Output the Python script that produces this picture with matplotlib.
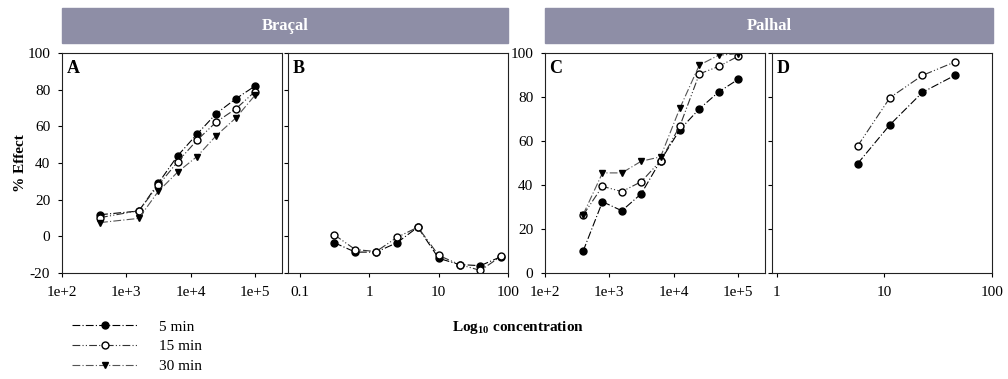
import matplotlib
matplotlib.use("Agg")
import matplotlib.pyplot as plt
from matplotlib.patches import Rectangle
from matplotlib.ticker import FixedLocator, FixedFormatter, NullLocator

plt.rcParams['font.family'] = ['Liberation Serif', 'DejaVu Serif']
plt.rcParams['axes.unicode_minus'] = False
plt.rcParams['mathtext.fontset'] = 'custom'
plt.rcParams['mathtext.rm'] = 'Liberation Serif:bold'
plt.rcParams['mathtext.it'] = 'Liberation Serif:bold'
plt.rcParams['mathtext.bf'] = 'Liberation Serif:bold'

# data
series_labels = ["5 min", "15 min", "30 min"]

x_A = [390.625, 1562.5, 3125, 6250, 12500, 25000, 50000, 100000]
A_5 = [11.8, 13.8, 28.9, 43.9, 55.7, 67, 75, 82]
A_15 = [10.2, 14, 27.8, 40.6, 52.4, 62.4, 69.5, 79]
A_30 = [7.5, 9.8, 24.5, 35, 43.5, 55, 64.5, 77]

x_B = [0.3125, 0.625, 1.25, 2.5, 5, 10, 20, 40, 80]
B_5 = [-3.5, -8.6, -8.6, -3.5, 5, -12, -15.4, -16, -11]
B_15 = [0.8, -7.2, -8.3, -0.6, 5, -10.4, -15.4, -18.6, -10.8]

x_C = [390.625, 781.25, 1562.5, 3125, 6250, 12500, 25000, 50000, 100000]
C_5 = [9.9, 32.4, 28.3, 36, 51.1, 65.2, 74.6, 82.3, 88]
C_15 = [26.3, 39.4, 37, 41.5, 51, 66.9, 90.5, 93.9, 98.5]
C_30 = [26.5, 45.5, 45.5, 50.8, 52.8, 75, 94.5, 99, 99.7]

x_D = [5.625, 11.25, 22.5, 45]
D_5 = [49.7, 67.4, 82.1, 89.8]
D_15 = [57.7, 79.7, 89.8, 95.9]

big_ticks = [1e2, 1e3, 1e4, 1e5]
big_labels = ["1e+2", "1e+3", "1e+4", "1e+5"]

styles = {
    "5 min": dict(color='black', ls=(0, (7, 2, 1, 2)), marker='o', mfc='black', mec='black'),
    "15 min": dict(color='#333333', ls=(0, (7, 2, 1, 2, 1, 2)), marker='o', mfc='white', mec='black'),
    "30 min": dict(color='#555555', ls=(0, (7, 2, 1, 2)), marker='v', mfc='black', mec='black'),
}

W, H = 1008, 379
fig = plt.figure(figsize=(W / 100, H / 100), dpi=100)


def make_ax(x0, x1, y0=53, y1=273):
    return fig.add_axes([x0 / W, 1 - y1 / H, (x1 - x0) / W, (y1 - y0) / H])


axA = make_ax(62, 282)
axB = make_ax(288, 508)
axC = make_ax(545, 765)
axD = make_ax(772, 992)


def draw(ax, x, y, label):
    ax.plot(x, y, lw=0.8, ms=5, label=label, **styles[label])


draw(axA, x_A, A_5, "5 min")
draw(axA, x_A, A_15, "15 min")
draw(axA, x_A, A_30, "30 min")

draw(axB, x_B, B_5, "5 min")
draw(axB, x_B, B_15, "15 min")

draw(axC, x_C, C_5, "5 min")
draw(axC, x_C, C_15, "15 min")
draw(axC, x_C, C_30, "30 min")

draw(axD, x_D, D_5, "5 min")
draw(axD, x_D, D_15, "15 min")

for ax in [axA, axB, axC, axD]:
    ax.set_xscale('log')
    ax.xaxis.set_minor_locator(NullLocator())
    ax.tick_params(direction='out', length=3, width=0.8, labelsize=11)
    ax.tick_params(axis='x', pad=6)
    ax.tick_params(axis='y', pad=5.5)
    for s in ax.spines.values():
        s.set_linewidth(0.8)
        s.set_color('#222222')

axA.set_xlim(100, 2.62e5)
axC.set_xlim(100, 2.62e5)
for ax in [axA, axC]:
    ax.xaxis.set_major_locator(FixedLocator(big_ticks))
    ax.xaxis.set_major_formatter(FixedFormatter(big_labels))

axB.set_xlim(0.067, 100)
axB.xaxis.set_major_locator(FixedLocator([0.1, 1, 10, 100]))
axB.xaxis.set_major_formatter(FixedFormatter(["0.1", "1", "10", "100"]))

axD.set_xlim(0.9, 100)
axD.xaxis.set_major_locator(FixedLocator([1, 10, 100]))
axD.xaxis.set_major_formatter(FixedFormatter(["1", "10", "100"]))

for ax in [axA, axB]:
    ax.set_ylim(-20, 100)
    ax.set_yticks([-20, 0, 20, 40, 60, 80, 100])
for ax in [axC, axD]:
    ax.set_ylim(0, 100)
    ax.set_yticks([0, 20, 40, 60, 80, 100])
axB.set_yticklabels([])
axD.set_yticklabels([])

for ax, letter in zip([axA, axB, axC, axD], "ABCD"):
    ax.text(0.02, 0.97, letter, transform=ax.transAxes, ha='left', va='top',
            fontsize=13, fontweight='bold')

axA.set_ylabel("% Effect", fontsize=11, fontweight='bold')
axA.yaxis.set_label_coords(-0.16, 0.5)

# header boxes
for x0, x1, name in [(62, 508, "Braçal"), (545, 993, "Palhal")]:
    fig.patches.append(Rectangle((x0 / W, 1 - 43 / H), (x1 - x0) / W, 35 / H,
                                 transform=fig.transFigure, color='#8e8ea6', zorder=0))
    fig.text((x0 + x1) / 2 / W, 1 - 26 / H, name, ha='center', va='center',
             color='white', fontsize=12, fontweight='bold')

fig.text(452 / W, 1 - 327 / H, "Log$_{10}$ concentration", ha='left', va='center',
         fontsize=11, fontweight='bold')

handles, labels = axA.get_legend_handles_labels()
fig.legend(handles, labels, loc='upper left', bbox_to_anchor=(72 / W, 1 - 320 / H),
           frameon=False, fontsize=11, handlelength=4.3, handletextpad=1.4,
           labelspacing=0.4, borderpad=0, borderaxespad=0)

fig.savefig("out.png", dpi=100)
